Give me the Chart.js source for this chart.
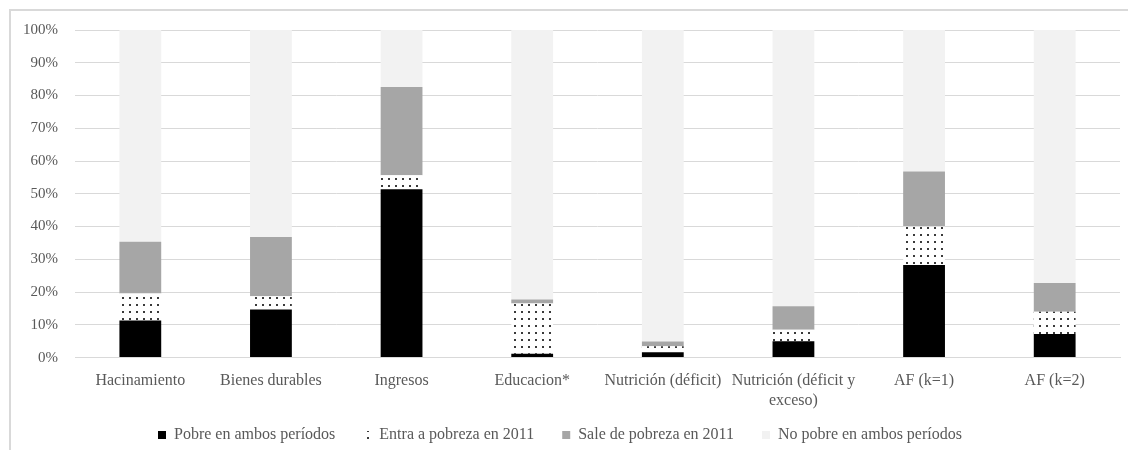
<!DOCTYPE html>
<html>
<head>
<meta charset="utf-8">
<script src="https://cdn.jsdelivr.net/npm/chart.js@4/dist/chart.umd.min.js"></script>
<style>
  html, body { margin: 0; padding: 0; background: #ffffff; }
  #wrap { width: 1128px; height: 450px; position: relative; }
</style>
</head>
<body>
<div id="wrap"><canvas id="c" width="1128" height="450"></canvas></div>
<script>
// Dimensions of poverty: transitions between periods (share of households)
const categories = [
  'Hacinamiento',
  'Bienes durables',
  'Ingresos',
  'Educacion*',
  'Nutrición (déficit)',
  ['Nutrición (déficit y', 'exceso)'],
  'AF (k=1)',
  'AF (k=2)'
];
const seriesLabels = [
  'Pobre en ambos períodos',
  'Entra a pobreza en 2011',
  'Sale de pobreza en 2011',
  'No pobre en ambos períodos'
];
const pobreAmbos   = [11.3, 14.7, 51.4,  1.2,  1.6,  5.0, 28.3,  7.2];
const entraPobreza = [ 8.3,  4.0,  4.3, 15.3,  1.9,  3.5, 11.7,  6.8];
const salePobreza  = [15.8, 18.1, 26.9,  1.2,  1.4,  7.2, 16.8,  8.8];
const noPobre      = [64.6, 63.2, 17.4, 82.3, 95.1, 84.3, 43.2, 77.2];
const yTicks = [0, 10, 20, 30, 40, 50, 60, 70, 80, 90, 100];

// Dotted fill used for households entering poverty
function dotPattern() {
  const t = document.createElement('canvas');
  t.width = 7; t.height = 7;
  const g = t.getContext('2d');
  g.fillStyle = '#ffffff';
  g.fillRect(0, 0, 7, 7);
  g.fillStyle = '#3a3a3a';
  g.fillRect(3, 3, 2, 2);
  return g.createPattern(t, 'repeat');
}
const dots = dotPattern();

const FONT = "'Liberation Serif', 'Times New Roman', serif";
const TXT = '#595959';

// Light frame around the whole figure
const framePlugin = {
  id: 'frame',
  beforeDraw(chart) {
    const ctx = chart.ctx;
    ctx.save();
    ctx.strokeStyle = '#d9d9d9';
    ctx.lineWidth = 2;
    ctx.strokeRect(10, 10, 1200, 600);
    ctx.restore();
  }
};

// Pull the legend row a little closer to the category labels
const legendLift = {
  id: 'legendLift',
  afterLayout(chart) {
    const lg = chart.legend;
    if (lg) { lg.top -= 17; lg.bottom -= 17; }
  }
};

new Chart(document.getElementById('c'), {
  type: 'bar',
  data: {
    labels: categories,
    datasets: [
      { label: seriesLabels[0], data: pobreAmbos,   backgroundColor: '#000000' },
      { label: seriesLabels[1], data: entraPobreza, backgroundColor: dots },
      { label: seriesLabels[2], data: salePobreza,  backgroundColor: '#a6a6a6' },
      { label: seriesLabels[3], data: noPobre,      backgroundColor: '#f2f2f2' }
    ]
  },
  options: {
    responsive: false,
    animation: false,
    devicePixelRatio: 1,
    layout: { padding: { left: 0, right: 8, top: 30, bottom: -20 } },
    datasets: { bar: { categoryPercentage: 1.0, barPercentage: 0.32, borderWidth: 0 } },
    plugins: {
      legend: {
        position: 'bottom',
        labels: {
          font: { family: FONT, size: 16 },
          color: TXT,
          boxWidth: 8,
          boxHeight: 8,
          padding: 28
        }
      },
      tooltip: { enabled: false }
    },
    scales: {
      x: {
        stacked: true,
        grid: { display: false },
        border: { color: '#d9d9d9', width: 1 },
        ticks: {
          font: { family: FONT, size: 16 },
          color: TXT,
          maxRotation: 0,
          autoSkip: false,
          padding: 6
        }
      },
      y: {
        stacked: true,
        min: 0,
        max: 100,
        afterFit(scale) { scale.width = 75; },
        afterBuildTicks(scale) { scale.ticks = yTicks.map(v => ({ value: v })); },
        grid: { color: '#d9d9d9', lineWidth: 1, drawTicks: false },
        border: { display: false },
        ticks: {
          font: { family: FONT, size: 15 },
          color: TXT,
          padding: 17,
          callback: v => v + '%'
        }
      }
    }
  },
  plugins: [framePlugin, legendLift]
});
</script>
</body>
</html>
